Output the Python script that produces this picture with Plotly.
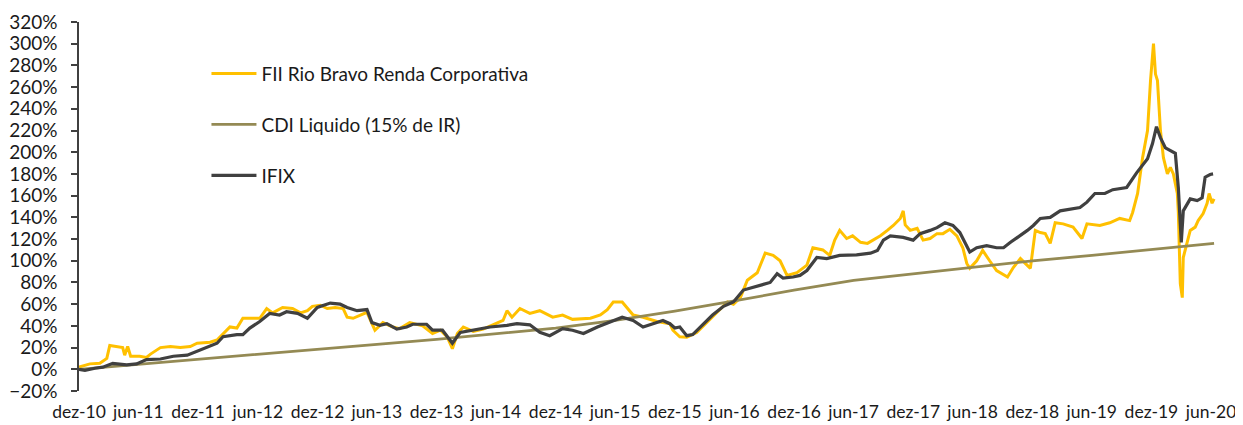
import numpy as np
import pandas as pd
import plotly.graph_objects as go

# ---- data (months since Dec-2010, cumulative return in %) ----
fii_months = [0.0, 0.6, 1.1, 2.1, 2.8, 3.1, 3.9, 4.4, 4.6, 4.9, 5.2, 6.1, 6.8, 7.2, 8.2, 9.2, 10.2, 11.2, 11.9,
              13.2, 13.9, 14.5, 15.2, 15.9, 16.5, 17.2, 18.2, 18.9, 19.5, 20.5, 21.5, 22.3, 23.0, 23.5, 24.3,
              25.0, 25.8, 26.6, 27.0, 27.6, 28.3, 29.0, 29.5, 29.8, 30.6, 31.6, 32.3, 33.3, 34.6, 35.6, 36.4,
              37.1, 37.6, 38.1, 38.7, 39.7, 40.7, 41.7, 42.7, 43.1, 43.6, 44.4, 45.4, 46.4, 47.7, 48.7, 49.7,
              51.5, 52.5, 53.2, 53.8, 54.7, 55.2, 55.8, 56.8, 58.2, 59.5, 59.8, 60.5, 61.2, 62.2, 63.2, 64.2,
              65.3, 65.9, 66.6, 67.3, 68.3, 69.1, 69.9, 70.6, 71.3, 72.3, 73.3, 73.9, 74.9, 75.6, 76.1, 76.6,
              77.3, 77.9, 78.7, 79.4, 80.0, 80.7, 81.4, 82.0, 82.7, 83.0, 83.2, 83.7, 84.4, 85.0, 85.7, 86.4,
              87.0, 87.7, 88.4, 89.0, 89.4, 89.7, 90.4, 91.0, 91.7, 92.4, 93.5, 94.1, 94.8, 95.5, 95.8, 96.3,
              96.8, 97.3, 97.8, 98.3, 99.1, 100.1, 101.0, 101.5, 102.8, 103.8, 104.8, 105.8, 106.1, 106.6,
              107.1, 107.6, 107.9, 108.2, 108.4, 108.6, 108.9, 109.2, 109.6, 109.9, 110.2, 110.6, 110.7,
              110.9, 111.1, 111.2, 111.6, 111.9, 112.4, 112.7, 113.2, 113.6, 113.8, 114.1, 114.3]
fii_values = [2, 4, 5, 5.5, 10, 22, 21, 20, 13, 21, 12, 12, 11, 14, 20, 21, 20, 21, 24,
              25, 27, 33, 39, 38, 47, 47, 47, 56, 52, 57, 56, 52, 54, 58, 59,
              56, 57, 56, 48, 47, 50, 52.5, 42, 36, 43, 39, 37.5, 43, 40, 33, 36,
              29.5, 19, 33, 39, 35, 37, 41, 45, 54, 48, 56, 51.5, 54, 48, 50, 46,
              47, 50, 55, 62, 62, 57, 50, 48, 44, 42, 36, 30, 29.5, 34, 43, 52.5,
              62, 60, 66, 82, 89, 107, 105, 100, 86.5, 89, 96, 112, 110, 105, 119, 128,
              120.5, 123, 117, 116, 119, 123, 128, 132.5, 139, 146, 133, 128, 130, 119, 120.5, 125,
              125, 129, 123, 112, 97.5, 93, 100, 109.5, 100, 91, 85, 94, 102, 96, 93, 128,
              126, 125, 116, 135, 134, 131, 120.5, 134, 132.5, 135, 139, 137, 144.5, 162,
              195, 220, 266, 300, 272, 266, 220, 195, 180, 186, 180, 162, 144.5,
              79, 66, 103, 116, 128, 131, 137, 143.5, 153, 162, 153, 157]

cdi_months = [0, 6, 12, 18, 24, 30, 36, 42, 48, 54, 60, 66, 72, 78, 84, 90, 96, 102, 108, 114.3]
cdi_values = [0, 4.7, 9.5, 14, 18.5, 23, 27.5, 32.5, 38, 45, 53.5, 63, 73, 82, 88, 94.5, 100, 105, 110.5, 116]

ifix_months = [0.0, 0.6, 1.6, 2.4, 3.4, 4.1, 4.8, 5.8, 6.8, 8.2, 9.5, 10.9, 12.5, 13.9, 14.5, 15.9, 16.5,
               17.2, 18.2, 19.2, 20.2, 20.9, 22.0, 23.0, 24.0, 25.3, 26.3, 27.0, 28.0, 29.0, 29.5, 30.3,
               31.0, 32.0, 33.0, 33.6, 35.0, 35.6, 36.6, 37.1, 37.6, 38.4, 39.7, 41.4, 43.1, 44.1, 45.4,
               46.4, 47.4, 48.7, 49.7, 50.8, 52.2, 53.5, 54.7, 55.8, 56.8, 57.8, 58.8, 59.5, 60.0, 60.5,
               61.2, 61.8, 62.8, 63.8, 64.9, 65.9, 66.9, 68.3, 69.6, 70.3, 70.9, 71.9, 72.6, 73.3, 74.3,
               75.3, 76.6, 78.3, 79.7, 80.4, 81.0, 81.7, 83.0, 84.0, 84.7, 85.7, 86.4, 87.2, 88.0, 88.7,
               89.0, 89.7, 90.4, 91.4, 92.4, 93.1, 93.8, 94.8, 95.5, 96.1, 96.8, 97.8, 98.8, 100.8, 101.5,
               102.3, 103.3, 104.1, 105.5, 106.5, 107.6, 108.1, 108.5, 108.9, 109.4, 110.4, 110.7, 111.0,
               111.2, 111.9, 112.6, 113.1, 113.4, 113.9, 114.2]
ifix_values = [0, -1, 1, 2, 5.5, 5, 4, 5, 9, 9.5, 12, 13, 19, 24, 30, 32, 32,
               38, 44, 51.5, 50, 53, 51.5, 47, 57, 61, 60, 57, 54, 55, 43, 40.5,
               42, 37, 39, 41.5, 41.5, 36, 36, 30, 24, 34, 36, 39, 40.5, 42, 41,
               34, 31, 37.5, 36, 33, 39, 44, 48, 45, 39, 42, 45, 42, 38, 39,
               31, 32, 40.5, 50, 58, 62, 73, 76.5, 80, 88, 84, 85, 86.5, 91, 103,
               102, 105, 105.5, 107, 109.5, 119, 123, 121.5, 119, 125, 128, 130.5, 135, 132.5, 126,
               120.5, 108, 112, 114, 112, 112, 117, 123, 128, 132.5, 139, 140, 146, 149, 154,
               162, 162, 165.5, 167.5, 181, 194, 208, 223.5, 213.5, 204, 199, 167.5, 117,
               146, 157, 155.5, 158, 177, 179.5, 180]

tick_labels = ["dez-10", "jun-11", "dez-11", "jun-12", "dez-12", "jun-13", "dez-13", "jun-14",
               "dez-14", "jun-15", "dez-15", "jun-16", "dez-16", "jun-17", "dez-17", "jun-18",
               "dez-18", "jun-19", "dez-19", "jun-20"]

START = pd.Timestamp("2010-12-01")


def to_dates(months):
    return START + pd.to_timedelta(np.asarray(months, dtype=float) * 30.4375, unit="D")


tick_vals = pd.date_range("2010-12-01", periods=len(tick_labels), freq="6MS")

FONT = "Lato, 'Open Sans', sans-serif"
FS = 19

fig = go.Figure()
fig.add_trace(go.Scatter(x=to_dates(fii_months), y=fii_values, mode="lines",
                         name="FII Rio Bravo Renda Corporativa",
                         line=dict(color="#FFC000", width=3), legend="legend"))
fig.add_trace(go.Scatter(x=to_dates(cdi_months), y=cdi_values, mode="lines",
                         name="CDI Liquido (15% de IR)",
                         line=dict(color="#948A54", width=2.75), legend="legend2"))
fig.add_trace(go.Scatter(x=to_dates(ifix_months), y=ifix_values, mode="lines",
                         name="IFIX",
                         line=dict(color="#404040", width=3.2), legend="legend3"))

leg_common = dict(x=0.112, xanchor="left", yanchor="middle", bgcolor="rgba(0,0,0,0)",
                  font=dict(family=FONT, size=FS, color="#1a1a1a"), itemwidth=45)

# the page body adds an 8 px offset, so the figure is 16 px smaller than the window
fig.update_layout(
    width=1235, height=417,
    margin=dict(l=71, r=26, t=14, b=34, autoexpand=False),
    paper_bgcolor="white", plot_bgcolor="white",
    font=dict(family=FONT, size=FS, color="#1a1a1a"),
    showlegend=True,
    legend=dict(y=0.860, **leg_common),
    legend2=dict(y=0.722, **leg_common),
    legend3=dict(y=0.584, **leg_common),
    xaxis=dict(type="date", range=["2010-12-01", "2020-06-19"],
               tickvals=tick_vals, ticktext=tick_labels, automargin=False,
               showline=False, showgrid=False, zeroline=False, ticks="",
               tickfont=dict(family=FONT, size=17.5, color="#1a1a1a"),
               ticklabelstandoff=8),
    yaxis=dict(range=[-20, 320], dtick=20, tick0=0, ticksuffix="%", automargin=False,
               showline=True, linecolor="#404040", linewidth=1.5,
               ticks="outside", ticklen=6, tickcolor="#404040", tickwidth=1.5,
               showgrid=False, zeroline=False,
               tickfont=dict(family=FONT, size=FS, color="#1a1a1a"),
               ticklabelstandoff=10),
)

fig.write_html("out.html")
